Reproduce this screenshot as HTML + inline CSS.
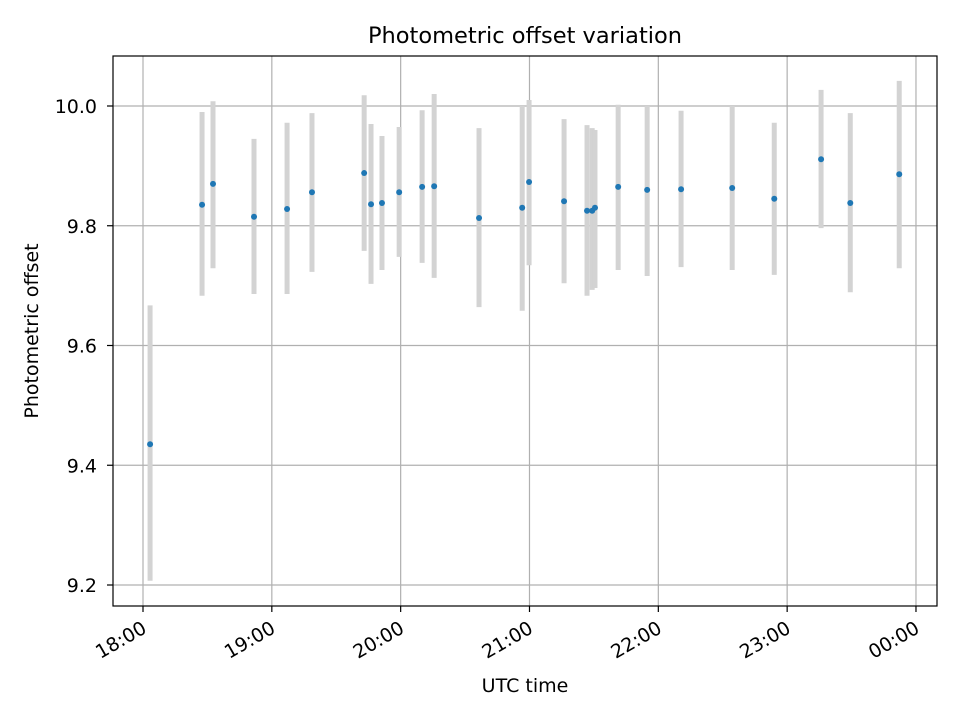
<!DOCTYPE html>
<html><head><meta charset="utf-8"><style>
html,body{margin:0;padding:0;background:#fff;}
svg{display:block;font-family:"DejaVu Sans","Liberation Sans",sans-serif;}
</style></head><body>
<svg id="chart" width="960" height="720" viewBox="0 0 960 720">
<rect x="0" y="0" width="960" height="720" fill="#fff"/>
<g id="grid"></g>
<g id="bars"></g>
<g id="pts"></g>
<rect x="113" y="56" width="824" height="550" fill="none" stroke="#000" stroke-width="1.2"/>
<g id="ticks"></g>
<text x="525" y="43" text-anchor="middle" font-size="22.5">Photometric offset variation</text>
<text x="525" y="692" text-anchor="middle" font-size="19">UTC time</text>
<text transform="translate(38,331) rotate(-90)" text-anchor="middle" font-size="19">Photometric offset</text>
</svg>
<script>
// minutes since 18:00
const times=[3.3,27.5,32.6,51.7,67.1,78.7,103,106.2,111.3,119.3,130,135.6,156.5,176.6,179.8,196.1,206.8,209.2,210.5,221.3,234.8,250.6,274.4,294,315.8,329.4,352.2];
const values=[9.435,9.835,9.870,9.815,9.828,9.856,9.888,9.836,9.838,9.856,9.865,9.866,9.813,9.830,9.873,9.841,9.825,9.825,9.830,9.865,9.860,9.861,9.863,9.845,9.911,9.838,9.886];
const highs=[9.667,9.990,10.008,9.945,9.972,9.988,10.018,9.970,9.950,9.965,9.993,10.020,9.963,10.000,10.010,9.978,9.968,9.963,9.960,10.002,10.000,9.992,10.000,9.972,10.027,9.988,10.042];
const lows=[9.207,9.683,9.729,9.686,9.686,9.723,9.758,9.703,9.726,9.748,9.738,9.713,9.664,9.658,9.734,9.704,9.683,9.693,9.696,9.726,9.716,9.731,9.726,9.718,9.796,9.689,9.729];
const xTickMinutes=[0,60,120,180,240,300,360];
const xTickLabels=["18:00","19:00","20:00","21:00","22:00","23:00","00:00"];
const yTicks=[9.2,9.4,9.6,9.8,10.0];
const yTickLabels=["9.2","9.4","9.6","9.8","10.0"];

const NS="http://www.w3.org/2000/svg";
function xs(m){return 143+(m/60)*128.83;}
function ys(v){return 106+(10-v)*598.75;}
function mk(tag,attrs,parent){const e=document.createElementNS(NS,tag);for(const k in attrs)e.setAttribute(k,attrs[k]);parent.appendChild(e);return e;}
const grid=document.getElementById('grid'),bars=document.getElementById('bars'),pts=document.getElementById('pts'),ticks=document.getElementById('ticks');
xTickMinutes.forEach((m,i)=>{
  const x=xs(m);
  const g=mk('line',{x1:x,x2:x,y1:56,y2:606,stroke:'#b0b0b0','stroke-width':1.2},grid);
  
  
  const t=mk('line',{x1:x,x2:x,y1:606,y2:612,stroke:'#000','stroke-width':1.2},ticks);
  
  
  const l=mk('text',{transform:`translate(${x-2},${620}) rotate(-30)`,'text-anchor':'end','font-size':19,'dominant-baseline':'hanging'},ticks);
  l.textContent=xTickLabels[i];
  
  
});
yTicks.forEach((v,i)=>{
  const y=ys(v);
  const g=mk('line',{x1:113,x2:937,y1:y,y2:y,stroke:'#b0b0b0','stroke-width':1.2},grid);
  
  
  const t=mk('line',{x1:107,x2:113,y1:y,y2:y,stroke:'#000','stroke-width':1.2},ticks);
  
  
  const l=mk('text',{x:97,y:y+7,'text-anchor':'end','font-size':19},ticks);
  l.textContent=yTickLabels[i];
  
  
});
times.forEach((m,i)=>{
  const x=xs(m);
  const b=mk('line',{x1:x,x2:x,y1:ys(highs[i]),y2:ys(lows[i]),stroke:'#d3d3d3','stroke-width':5},bars);
  
  
  const c=mk('circle',{cx:x,cy:ys(values[i]),r:3,fill:'#1f77b4'},pts);
  
  
});
</script>
</body></html>
